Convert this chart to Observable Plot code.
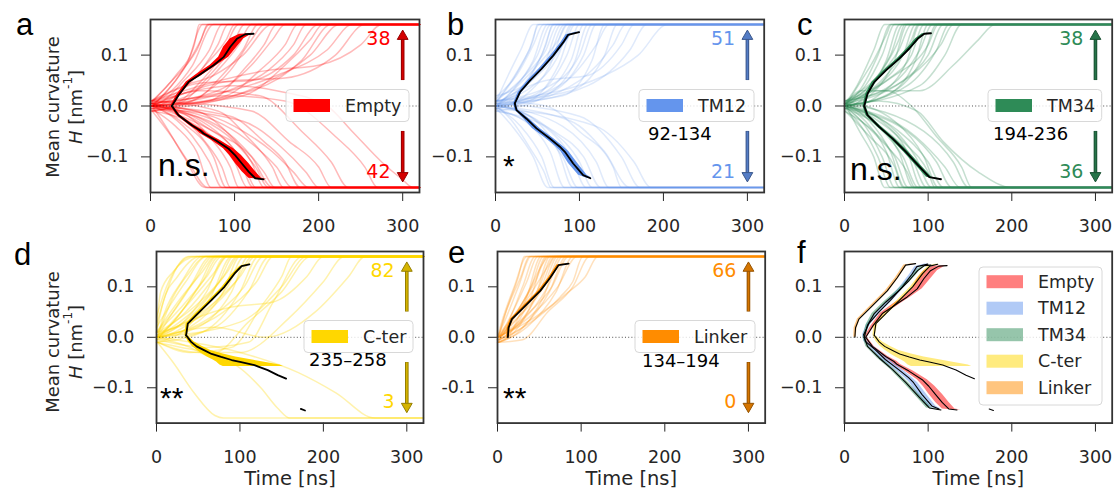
<!DOCTYPE html>
<html>
<head>
<meta charset="utf-8">
<title>Mean curvature trajectories</title>
<script src="https://cdn.jsdelivr.net/npm/d3@7"></script>
<script src="https://cdn.jsdelivr.net/npm/@observablehq/plot@0.6"></script>
<style>
  html, body { margin: 0; padding: 0; background: #fff; }
  #fig { position: relative; width: 1115px; height: 489px; overflow: hidden; background: #fff; }
  #fig svg { position: absolute; }
</style>
</head>
<body>
<div id="fig"></div>
<script>
// ---------------- data ----------------
const xTicks = [0, 100, 200, 300];
const yTicks = [-0.1, 0, 0.1];
const names = ["Empty", "TM12", "TM34", "C-ter", "Linker"];
const colors = ["#ff0000", "#6495ed", "#2e8b57", "#ffd700", "#ff8c00"];
const upCounts = [38, 51, 38, 82, 66];
const downCounts = [42, 21, 36, 3, 0];
const residues = ["", "92-134", "194-236", "235–258", "134–194"];
const significance = ["n.s.", "*", "n.s.", "**", "**"];
const runEnd = 320; // runs hold their final curvature up to here

// Individual runs: flat lists of (time [ns], H [nm^-1]) vertices
const emptyUp = [
  [2,0, 20,0.03, 45,0.09, 62,0.16],
  [2,0.005, 25,0.03, 50,0.08, 75,0.16],
  [0,0, 15,0.01, 40,0.05, 70,0.11, 85,0.16],
  [3,-0.005, 30,0.02, 60,0.07, 80,0.12, 92,0.16],
  [1,0.01, 35,0.03, 65,0.08, 90,0.13, 100,0.16],
  [2,0, 30,0.005, 55,0.04, 85,0.1, 105,0.16],
  [0,-0.01, 40,0.01, 70,0.06, 95,0.11, 112,0.16],
  [2,0.005, 45,0.02, 80,0.07, 105,0.12, 120,0.16],
  [1,0, 50,0.01, 85,0.06, 110,0.11, 128,0.16],
  [3,-0.01, 60,0.02, 95,0.07, 120,0.13, 135,0.16],
  [0,0.01, 40,0.04, 75,0.06, 110,0.1, 145,0.16],
  [2,0, 70,0.01, 110,0.07, 135,0.12, 150,0.16],
  [1,0.005, 80,0.03, 120,0.08, 145,0.13, 160,0.16],
  [2,-0.005, 90,0.02, 130,0.07, 160,0.12, 175,0.16],
  [0,0, 100,0.035, 140,0.07, 170,0.12, 185,0.16],
  [2,0.01, 60,0.045, 120,0.05, 170,0.1, 200,0.16],
  [1,0, 110,0.02, 160,0.08, 190,0.13, 205,0.16],
  [3,0, 120,0.03, 180,0.09, 215,0.16],
  [2,-0.01, 130,0.04, 190,0.1, 225,0.16],
  [1,0.005, 150,0.06, 210,0.11, 240,0.16],
  [2,0, 100,0.05, 160,0.055, 220,0.1, 255,0.16],
  [1,0.01, 140,0.07, 200,0.08, 250,0.12, 275,0.16],
  [2,0, 30,0.05, 50,0.1, 60,0.13, 68,0.16],
  [0,0.005, 20,0.04, 55,0.11, 70,0.16],
  [2,0.01, 30,0.06, 52,0.12, 58,0.16]
];
const emptyDown = [
  [2,0, 20,-0.045, 40,-0.1, 65,-0.16],
  [1,-0.005, 30,-0.04, 55,-0.09, 72,-0.16],
  [3,0, 25,-0.02, 50,-0.06, 70,-0.11, 85,-0.16],
  [0,0.005, 35,-0.02, 65,-0.07, 85,-0.12, 95,-0.16],
  [2,0, 40,-0.015, 70,-0.06, 95,-0.12, 105,-0.16],
  [1,-0.01, 45,-0.03, 80,-0.07, 100,-0.11, 115,-0.16],
  [2,0.005, 50,-0.02, 85,-0.06, 110,-0.11, 125,-0.16],
  [0,0, 55,-0.01, 90,-0.05, 120,-0.11, 135,-0.16],
  [3,0, 60,-0.025, 100,-0.07, 125,-0.12, 140,-0.16],
  [1,-0.005, 70,-0.03, 110,-0.08, 135,-0.13, 148,-0.16],
  [2,0.01, 80,-0.01, 115,-0.06, 145,-0.12, 158,-0.16],
  [0,0, 85,-0.035, 125,-0.08, 150,-0.12, 168,-0.16],
  [2,0, 95,-0.02, 135,-0.07, 160,-0.11, 178,-0.16],
  [1,0.005, 100,-0.04, 145,-0.09, 170,-0.13, 188,-0.16],
  [3,-0.005, 110,-0.03, 155,-0.08, 185,-0.13, 200,-0.16],
  [2,0.01, 120,-0.01, 165,-0.07, 200,-0.12, 215,-0.16],
  [1,0, 60,0.03, 130,0.02, 180,-0.05, 215,-0.11, 235,-0.16],
  [2,0, 90,0.02, 160,0.01, 220,-0.06, 255,-0.12, 270,-0.16],
  [0,0.005, 100,0.04, 150,0.03, 210,0, 240,-0.05, 275,-0.11, 300,-0.145, 312,-0.16],
  [2,-0.01, 25,-0.06, 45,-0.11, 68,-0.16],
  [1,0, 40,-0.035, 75,-0.1, 90,-0.16],
  [2,0.005, 65,-0.04, 105,-0.1, 122,-0.16],
  [3,0, 75,-0.05, 120,-0.1, 145,-0.16]
];
const tm12Up = [
  [1,0.01, 15,0.06, 30,0.11, 45,0.16],
  [0,0.005, 20,0.05, 40,0.11, 52,0.16],
  [2,0.02, 25,0.06, 45,0.12, 57,0.16],
  [1,0, 20,0.03, 45,0.09, 62,0.16],
  [0,0.015, 30,0.05, 50,0.1, 66,0.16],
  [2,0, 25,0.02, 55,0.1, 70,0.16],
  [1,0.01, 35,0.06, 60,0.11, 74,0.16],
  [0,0, 30,0.03, 60,0.09, 78,0.16],
  [2,0.005, 40,0.05, 65,0.1, 82,0.16],
  [1,-0.005, 35,0.02, 65,0.08, 85,0.16],
  [0,0.01, 45,0.04, 75,0.1, 90,0.16],
  [2,0, 40,0.01, 75,0.08, 95,0.16],
  [1,0.02, 50,0.06, 80,0.12, 92,0.16],
  [0,0, 55,0.03, 85,0.1, 100,0.16],
  [2,0.005, 50,0.02, 90,0.09, 105,0.16],
  [1,-0.01, 60,0.02, 95,0.09, 110,0.16],
  [0,0.01, 65,0.04, 100,0.1, 115,0.16],
  [2,0, 70,0.03, 105,0.1, 120,0.16],
  [1,0.005, 80,0.02, 115,0.09, 130,0.16],
  [0,0, 85,0.05, 120,0.12, 135,0.16],
  [2,0.01, 90,0.03, 130,0.1, 145,0.16],
  [1,-0.005, 100,0.05, 140,0.12, 155,0.16],
  [0,0.005, 60,0.05, 110,0.06, 150,0.12, 165,0.16],
  [2,0, 110,0.04, 160,0.11, 180,0.16],
  [1,0.01, 130,0.06, 170,0.1, 205,0.16],
  [0,0, 45,0.07, 60,0.12, 68,0.16],
  [2,0.01, 30,0.08, 45,0.13, 50,0.16],
  [1,0, 50,0.08, 75,0.13, 86,0.16]
];
const tm12Down = [
  [1,-0.005, 20,-0.04, 45,-0.1, 62,-0.16],
  [0,0, 30,-0.04, 55,-0.1, 70,-0.16],
  [2,-0.01, 35,-0.03, 65,-0.09, 82,-0.16],
  [1,0, 40,-0.02, 75,-0.09, 92,-0.16],
  [0,-0.005, 45,-0.04, 80,-0.1, 98,-0.16],
  [2,0, 50,-0.03, 90,-0.1, 108,-0.16],
  [1,0.005, 60,-0.04, 100,-0.11, 115,-0.16],
  [0,-0.01, 70,-0.05, 105,-0.1, 125,-0.16],
  [2,0, 80,-0.04, 120,-0.11, 135,-0.16],
  [1,0.01, 60,0, 100,-0.05, 140,-0.12, 150,-0.16],
  [0,0, 90,-0.03, 130,-0.09, 160,-0.16],
  [2,0.005, 100,-0.02, 150,-0.1, 172,-0.16],
  [1,0, 20,-0.03, 40,-0.08, 58,-0.13, 66,-0.16],
  [0,-0.005, 120,-0.04, 165,-0.11, 185,-0.16]
];
const tm34Up = [
  [1,0.005, 15,0.04, 35,0.11, 48,0.16],
  [0,0, 20,0.035, 40,0.1, 55,0.16],
  [2,0.01, 25,0.04, 45,0.1, 60,0.16],
  [1,-0.005, 25,0.02, 50,0.09, 66,0.16],
  [0,0.005, 30,0.04, 55,0.1, 70,0.16],
  [2,0, 30,0.02, 60,0.09, 75,0.16],
  [1,0.01, 35,0.05, 65,0.11, 80,0.16],
  [0,0, 40,0.04, 70,0.1, 85,0.16],
  [2,-0.005, 40,0.02, 75,0.09, 90,0.16],
  [1,0.005, 50,0.05, 80,0.1, 95,0.16],
  [0,0, 50,0.02, 85,0.09, 100,0.16],
  [2,0.01, 55,0.04, 90,0.11, 105,0.16],
  [1,0, 60,0.03, 95,0.1, 110,0.16],
  [0,0.005, 70,0.05, 100,0.1, 118,0.16],
  [2,0, 75,0.04, 110,0.11, 125,0.16],
  [1,0.01, 80,0.06, 115,0.12, 130,0.16],
  [0,0, 90,0.04, 120,0.1, 140,0.16],
  [2,0, 40,0.03, 90,0.03, 130,0.08, 160,0.13, 180,0.16],
  [1,0.005, 45,0.07, 65,0.13, 72,0.16],
  [0,0, 55,0.07, 80,0.13, 88,0.16],
  [2,0.01, 60,0.06, 100,0.12, 112,0.16],
  [1,0, 20,0.05, 35,0.09, 50,0.14, 56,0.16]
];
const tm34Down = [
  [1,-0.005, 20,-0.04, 40,-0.1, 55,-0.16],
  [0,0, 25,-0.04, 45,-0.1, 60,-0.16],
  [2,0, 25,-0.03, 50,-0.09, 66,-0.16],
  [1,0.005, 30,-0.03, 55,-0.09, 72,-0.16],
  [0,-0.01, 35,-0.05, 60,-0.1, 76,-0.16],
  [2,0, 35,-0.03, 65,-0.09, 82,-0.16],
  [1,0, 40,-0.04, 70,-0.1, 88,-0.16],
  [0,0.005, 45,-0.03, 75,-0.09, 92,-0.16],
  [2,-0.005, 50,-0.05, 80,-0.1, 98,-0.16],
  [1,0, 55,-0.04, 85,-0.1, 104,-0.16],
  [0,0.01, 60,-0.03, 95,-0.1, 112,-0.16],
  [2,0, 65,-0.05, 100,-0.11, 118,-0.16],
  [1,-0.005, 75,-0.05, 110,-0.11, 128,-0.16],
  [0,0, 85,-0.06, 120,-0.12, 138,-0.16],
  [2,0.005, 95,-0.05, 130,-0.11, 148,-0.16],
  [1,0, 40,0.01, 87,-0.01, 118,-0.07, 160,-0.13, 200,-0.16],
  [0,0, 20,0.03, 50,0.03, 80,0, 110,-0.06, 140,-0.12, 152,-0.16],
  [2,0, 18,-0.05, 35,-0.1, 48,-0.16],
  [1,-0.01, 30,-0.06, 60,-0.12, 70,-0.16],
  [0,0, 45,-0.07, 75,-0.13, 84,-0.16],
  [2,0.005, 70,-0.07, 100,-0.13, 108,-0.16]
];
const cterUp = [
  [0,0.02, 5,0.09, 20,0.13, 48,0.16],
  [0,0.01, 8,0.07, 25,0.12, 52,0.16],
  [1,0, 10,0.05, 30,0.11, 55,0.16],
  [0,0.02, 15,0.06, 35,0.11, 60,0.16],
  [1,0, 12,0.03, 40,0.1, 65,0.16],
  [0,0.01, 20,0.05, 45,0.11, 68,0.16],
  [2,0, 20,0.03, 50,0.1, 72,0.16],
  [0,-0.005, 25,0.04, 55,0.11, 75,0.16],
  [1,0.01, 30,0.06, 60,0.12, 78,0.16],
  [0,0, 25,0.02, 60,0.09, 82,0.16],
  [2,0.005, 35,0.05, 65,0.11, 85,0.16],
  [1,-0.01, 30,0.01, 65,0.08, 90,0.16],
  [0,0, 40,0.04, 75,0.11, 92,0.16],
  [2,0.01, 45,0.06, 80,0.12, 96,0.16],
  [1,0, 40,0.02, 80,0.09, 100,0.16],
  [0,-0.005, 50,0.04, 85,0.1, 105,0.16],
  [2,0, 50,0.02, 90,0.09, 110,0.16],
  [1,0.01, 60,0.05, 95,0.11, 115,0.16],
  [0,-0.01, 55,0.01, 100,0.09, 122,0.16],
  [2,0, 65,0.04, 105,0.1, 128,0.16],
  [1,-0.005, 70,0.02, 110,0.09, 135,0.16],
  [0,0, 80,0.05, 120,0.11, 140,0.16],
  [2,-0.01, 40,-0.03, 90,-0.02, 125,0.06, 150,0.12, 162,0.16],
  [1,-0.005, 60,-0.02, 110,-0.01, 140,0.07, 175,0.16],
  [0,0, 100,0.03, 150,0.1, 180,0.16],
  [2,0.005, 90,0.06, 140,0.07, 180,0.12, 200,0.16],
  [1,-0.01, 50,-0.03, 100,-0.03, 160,0.04, 200,0.11, 225,0.16],
  [0,0, 70,0.02, 130,0, 190,0.05, 230,0.12, 250,0.16],
  [1,0.03, 10,0.08, 25,0.14, 38,0.16],
  [0,0.04, 12,0.1, 30,0.15, 42,0.16],
  [1,0, 20,0.08, 40,0.13, 58,0.16],
  [0,0.01, 30,0.08, 55,0.13, 70,0.16],
  [2,0, 45,0.08, 70,0.13, 84,0.16],
  [1,0.005, 35,0.03, 70,0.07, 100,0.12, 118,0.16],
  [0,-0.01, 30,-0.02, 70,-0.03, 110,0.03, 150,0.09, 185,0.16],
  [1,0, 55,0.07, 85,0.13, 98,0.16]
];
const cterDown = [
  [1,-0.01, 20,-0.05, 45,-0.11, 70,-0.155, 80,-0.16],
  [0,0, 40,-0.02, 65,-0.04, 95,-0.055, 125,-0.1, 145,-0.14, 160,-0.16],
  [2,0, 100,-0.03, 170,-0.07, 215,-0.11, 262,-0.16]
];
const linkerUp = [
  [0,0, 5,0.03, 20,0.1, 35,0.16],
  [1,0.005, 8,0.03, 25,0.1, 40,0.16],
  [0,-0.005, 10,0.02, 30,0.1, 45,0.16],
  [2,0, 12,0.03, 35,0.11, 48,0.16],
  [1,-0.01, 12,0, 35,0.08, 52,0.16],
  [0,0, 15,0.03, 40,0.1, 55,0.16],
  [2,-0.005, 15,0.01, 40,0.08, 58,0.16],
  [1,0.005, 18,0.04, 45,0.11, 60,0.16],
  [0,-0.01, 20,0.01, 45,0.08, 63,0.16],
  [2,0, 20,0.03, 50,0.1, 66,0.16],
  [1,-0.005, 22,0.02, 50,0.09, 70,0.16],
  [0,0, 25,0.04, 55,0.1, 72,0.16],
  [2,-0.01, 25,0.01, 55,0.08, 75,0.16],
  [1,0, 28,0.03, 60,0.1, 78,0.16],
  [0,-0.005, 30,0.02, 62,0.09, 82,0.16],
  [2,0, 32,0.04, 65,0.1, 85,0.16],
  [1,-0.01, 35,0.02, 70,0.09, 90,0.16],
  [0,0, 38,0.04, 72,0.1, 95,0.16],
  [2,-0.005, 40,0.03, 75,0.08, 90,0.11, 102,0.16],
  [1,-0.01, 30,-0.005, 60,0.05, 90,0.1, 110,0.16],
  [0,0, 45,0.04, 85,0.09, 105,0.12, 120,0.16],
  [2,0.005, 10,0.05, 25,0.12, 32,0.16],
  [1,0, 8,0.04, 28,0.12, 38,0.16],
  [0,-0.01, 20,0.04, 40,0.1, 52,0.14, 62,0.16],
  [2,-0.005, 25,0.05, 45,0.1, 60,0.14, 68,0.16]
];

// Mean arrival time at each curvature level: [time, H, band low, band high]
const emptyMeanUp = [
  [25.4,0,24,27],[33.3,0.021,31,35.5],[45.2,0.047,42.5,48],[57.1,0.06,53,61],
  [63.1,0.067,59,67],[75,0.08,71,79],[86.9,0.096,81,93],[94.8,0.116,87,103],
  [102.8,0.132,95,111],[112.7,0.141,106,120],[122.6,0.142,118,125]
];
const emptyMeanDown = [
  [25.4,0,24,27],[33.3,-0.018,31,35.5],[49.2,-0.038,46,52],[59.1,-0.048,55,63],
  [63.1,-0.054,59,67],[77,-0.067,72,82],[92.9,-0.084,87,99],[100.8,-0.097,94,108],
  [108.7,-0.113,101,117],[116.7,-0.129,109,125],[124.6,-0.142,117,132],[134.5,-0.144,130,139]
];
const tm12MeanUp = [
  [23,0.005,21.5,25],[29,0.027,27,31.5],[41,0.05,38.5,43.5],[54.8,0.073,52,57.5],
  [68.7,0.099,66,71.5],[80.6,0.125,78,83.5],[86.5,0.14,84,90],[99.6,0.145,96,101]
];
const tm12MeanDown = [
  [23,0.005,21.5,25],[25,-0.008,23,27],[36.9,-0.025,33.5,40],[48.8,-0.044,44,53],
  [64.7,-0.064,60,69],[76.6,-0.08,72,81],[82.6,-0.09,78,87.5],[92.5,-0.113,87,98],
  [104.4,-0.136,99,109],[113,-0.142,109,115]
];
const tm34MeanUp = [
  [23.6,0,22,25.5],[27.5,0.024,25.5,29.5],[35.5,0.047,33,38],[49.5,0.07,47,52],
  [65.5,0.093,63,68],[77.5,0.113,75,80],[87.4,0.132,85,90],[95.4,0.142,93,98],[103.4,0.143,101,105]
];
const tm34MeanDown = [
  [23.6,0,22,25.5],[27.5,-0.018,25.5,29.5],[41.5,-0.041,39,44],[57.5,-0.064,55,60],
  [73.4,-0.09,70.5,76.5],[89.5,-0.119,86.5,92.5],[101.4,-0.14,98,104.5],[115.3,-0.144,112,117]
];
const cterMeanUp = [
  [35.5,0.004,34,37],[37.5,0.027,35.5,39.5],[49.4,0.047,47,52],[65.5,0.073,63,68],
  [81.4,0.1,79,84],[93.4,0.126,91,96],[102,0.141,100,104],[111.4,0.1446,109,113]
];
const cterMeanDown = [
  [35.5,0.004,34,37],[41.5,-0.009,38,45],[48,-0.018,43,55],[57.5,-0.026,49,65],
  [66,-0.033,55,80],[77.5,-0.039,61,95],[90,-0.045,68,115],[101.4,-0.049,72,128],
  [117.4,-0.055,76,148],[122,-0.058,80,152],[133.3,-0.065,null,null],
  [145.3,-0.075,null,null],[155.3,-0.082,null,null]
];
const cterMeanBottom = [[173,-0.142,null,null],[178,-0.145,null,null]];
const linkerMeanUp = [
  [12.4,0,11,14],[13.2,0.019,11.5,15],[17.2,0.036,15.5,19],[31.1,0.059,29,33],
  [51.1,0.092,49,53.5],[63,0.118,61,65],[73,0.143,71,75],[85,0.146,83,87]
];

const runsUp = [emptyUp, tm12Up, tm34Up, cterUp, linkerUp];
const runsDown = [emptyDown, tm12Down, tm34Down, cterDown, []];
const means = [
  [emptyMeanUp, emptyMeanDown],
  [tm12MeanUp, tm12MeanDown],
  [tm34MeanUp, tm34MeanDown],
  [cterMeanUp, cterMeanDown, cterMeanBottom],
  [linkerMeanUp]
];

// ---------------- layout ----------------
const W = 1115, H = 489;
const font = "'DejaVu Sans', 'Liberation Sans', sans-serif";
const ink = "#262626";
const frames = [
  {x: 150,   y: 19,    w: 269,   h: 173},
  {x: 495.3, y: 19,    w: 268.7, h: 173},
  {x: 844,   y: 19,    w: 267.7, h: 173},
  {x: 156,   y: 250.7, w: 267,   h: 171.6},
  {x: 497.3, y: 250.7, w: 267.7, h: 171.6},
  {x: 844,   y: 250.7, w: 267.7, h: 171.6}
];
const lineOpacity = [0.27, 0.2, 0.28, 0.32, 0.26];
const fig = d3.select("#fig");

function runRows(runs, tag) {
  const rows = [];
  runs.forEach((r, i) => {
    for (let k = 0; k < r.length; k += 2) rows.push({run: tag + i, t: r[k], H: r[k + 1]});
    rows.push({run: tag + i, t: runEnd, H: r[r.length - 1]});
  });
  return rows;
}

function place(frame, marks, yFormat, bottomRow) {
  const ml = 70, mr = 8, mt = 10, mb = 72;
  const all = [...marks];
  if (bottomRow) all.push(Plot.text(["Time [ns]"], {text: d => d, frameAnchor: "bottom", dy: 62, fontSize: 19.5, fill: ink}));
  const svg = Plot.plot({
    width: ml + frame.w + mr, height: mt + frame.h + mb,
    marginLeft: ml, marginRight: mr, marginTop: mt, marginBottom: mb,
    style: {background: "transparent", overflow: "visible", fontFamily: font, fontSize: "17.5px", color: ink},
    x: {domain: [0, 320], ticks: xTicks, tickSize: 9, tickPadding: 18, tickFormat: d3.format("d"), label: null},
    y: {domain: [-0.17, 0.17], ticks: yTicks, tickSize: 9, tickPadding: 13, tickFormat: yFormat, label: null},
    marks: all
  });
  svg.style.left = (frame.x - ml) + "px";
  svg.style.top = (frame.y - mt) + "px";
  fig.node().appendChild(svg);
}

const zeroLine = () => Plot.ruleY([0], {stroke: "#222", strokeWidth: 0.8, strokeDasharray: "1,2.2"});
const frameMark = () => Plot.frame({stroke: "#333", strokeWidth: 1.8});
const fmt = d => d3.format(".1f")(d);

// panels a–e
names.forEach((name, i) => {
  const c = colors[i];
  const fillArrow = d3.color(c).darker(0.5).formatHex();
  const edgeArrow = d3.color(c).darker(1.5).formatHex();
  const rows = runRows(runsUp[i], "u").concat(runRows(runsDown[i], "d"));
  const marks = [
    Plot.line(rows, {x: "t", y: "H", z: "run", curve: "monotone-x", stroke: c, strokeOpacity: lineOpacity[i], strokeWidth: 1.5}),
    ...means[i].map(m => Plot.areaX(m, {filter: d => d[2] != null, y: d => d[1], x1: d => d[2], x2: d => d[3], fill: c})),
    ...means[i].map(m => Plot.line(m, {x: d => d[0], y: d => d[1], stroke: "#000", strokeWidth: 1.8})),
    zeroLine(),
    frameMark(),
    Plot.text([upCounts[i]], {x: 285.5, y: 0.132, text: d => String(d), textAnchor: "end", fontSize: 19, fill: c}),
    Plot.text([downCounts[i]], {x: 285.5, y: -0.129, text: d => String(d), textAnchor: "end", fontSize: 19, fill: c}),
    // up / down arrows
    Plot.ruleX([300], {y1: 0.05, y2: 0.132, stroke: edgeArrow, strokeWidth: 3.6}),
    Plot.ruleX([300], {y1: 0.051, y2: 0.132, stroke: fillArrow, strokeWidth: 1.6}),
    Plot.dot([300], {x: d => d, y: 0.137, symbol: "triangle", r: 4, fill: fillArrow, stroke: edgeArrow, strokeWidth: 1}),
    Plot.ruleX([300], {y1: -0.05, y2: -0.132, stroke: edgeArrow, strokeWidth: 3.6}),
    Plot.ruleX([300], {y1: -0.051, y2: -0.132, stroke: fillArrow, strokeWidth: 1.6}),
    Plot.dot([300], {x: d => d, y: -0.137, symbol: "triangle", rotate: 180, r: 4, fill: fillArrow, stroke: edgeArrow, strokeWidth: 1})
  ];
  const yFormat = name === "Linker" ? (d => d.toFixed(1)) : fmt;
  place(frames[i], marks, yFormat, i >= 3);
});

// panel f: all mean curves together
{
  const marks = [];
  names.forEach((name, i) => {
    means[i].forEach(m => marks.push(Plot.areaX(m, {filter: d => d[2] != null, y: d => d[1], x1: d => d[2], x2: d => d[3], fill: colors[i], fillOpacity: 0.5})));
  });
  names.forEach((name, i) => {
    means[i].forEach(m => marks.push(Plot.line(m, {x: d => d[0], y: d => d[1], stroke: "#000", strokeWidth: 1.1})));
  });
  marks.push(zeroLine(), frameMark());
  place(frames[5], marks, fmt, true);
}

// ---------------- annotations ----------------
const ov = fig.append("svg").attr("width", W).attr("height", H).style("left", "0px").style("top", "0px")
  .style("font-family", font).style("pointer-events", "none");

// y-axis titles
[107, 342].forEach(cy => {
  ov.append("text").attr("transform", `translate(52,${cy}) rotate(-90)`).attr("text-anchor", "middle")
    .attr("dominant-baseline", "central").attr("font-size", 18).attr("fill", ink).text("Mean curvature");
  const t = ov.append("text").attr("transform", `translate(75,${cy}) rotate(-90)`).attr("text-anchor", "middle")
    .attr("dominant-baseline", "central").attr("font-size", 18).attr("fill", ink);
  t.append("tspan").attr("font-style", "italic").text("H");
  t.append("tspan").text(" [nm");
  t.append("tspan").attr("font-size", 12).attr("dy", -7).text("-1");
  t.append("tspan").attr("dy", 7).text("]");
});

// panel letters
const letters = [["a", 16, 35], ["b", 447, 35], ["c", 797, 35], ["d", 14, 265], ["e", 448, 263], ["f", 797, 263]];
letters.forEach(([s, x, y]) => ov.append("text").attr("x", x).attr("y", y).attr("font-family", "'Liberation Sans', Arial, sans-serif")
  .attr("font-size", 31).attr("fill", "#000").text(s));

// significance marks
const sigPos = [[158, 176], [503, 176], [850, 180], [160, 408], [503, 408]];
significance.forEach((s, i) => ov.append("text").attr("x", sigPos[i][0]).attr("y", sigPos[i][1])
  .attr("font-family", "'Liberation Sans', Arial, sans-serif").attr("font-size", s === "n.s." ? 32 : 30).attr("fill", "#000").text(s));

// residue ranges
const resPos = [null, [648, 133], [993, 133], [309, 359], [642, 360]];
residues.forEach((s, i) => {
  if (!s) return;
  ov.append("text").attr("x", resPos[i][0]).attr("y", resPos[i][1]).attr("dominant-baseline", "central")
    .attr("font-size", 18).attr("fill", "#000").text(s);
});

// legends
function legendBox(x0, x1, y0, y1) {
  ov.append("rect").attr("x", x0).attr("y", y0).attr("width", x1 - x0).attr("height", y1 - y0).attr("rx", 4)
    .attr("fill", "#fff").attr("fill-opacity", 0.8).attr("stroke", "#d8d8d8").attr("stroke-width", 1);
}
function legendEntry(x0, cy, label, color, opacity) {
  ov.append("rect").attr("x", x0 + 7.5).attr("y", cy - 6.5).attr("width", 36.5).attr("height", 13)
    .attr("fill", color).attr("fill-opacity", opacity);
  ov.append("text").attr("x", x0 + 59).attr("y", cy).attr("dominant-baseline", "central")
    .attr("font-size", 17.5).attr("fill", ink).text(label);
}
const legendLeft = [286, 639, 988, 304, 635];
names.forEach((name, i) => {
  const f = frames[i];
  const cy = f.y + f.h / 2;
  legendBox(legendLeft[i], f.x + f.w - 10, cy - 16, cy + 16);
  legendEntry(legendLeft[i], cy, name, colors[i], 1);
});
legendBox(979, 1102, 267, 405);
names.forEach((name, i) => legendEntry(979, 281.7 + 26.5 * i, name, colors[i], 0.5));
</script>
</body>
</html>
